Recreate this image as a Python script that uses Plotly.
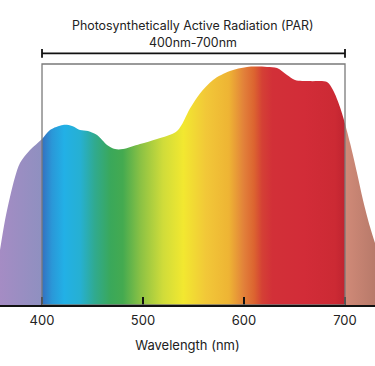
import plotly.graph_objects as go

# Relative spectral intensity (box top = 1.0)
wavelength_nm = [358.4, 363.4, 368.3, 373.3, 378.2, 388.1, 400.0, 407.9, 420.8, 429.7,
                 437.6, 445.5, 454.5, 464.4, 472.3, 480.2, 497.0, 513.9, 533.7,
                 546.5, 556.4, 569.3, 586.1, 603.0, 622.8, 632.7, 642.6, 650.5, 665.3,
                 682.2, 688.1, 695.0, 699.0, 705.0, 711.9, 717.8, 724.8, 729.7]
intensity = [0.228, 0.353, 0.448, 0.531, 0.589, 0.643, 0.689, 0.726, 0.747, 0.743,
             0.726, 0.722, 0.705, 0.664, 0.647, 0.647, 0.668, 0.689, 0.722,
             0.815, 0.878, 0.934, 0.971, 0.988, 0.988, 0.983, 0.954, 0.934, 0.929,
             0.925, 0.892, 0.822, 0.768, 0.672, 0.548, 0.436, 0.324, 0.257]

# Spectrum colours along wavelength
color_nm = [358.4, 399.6, 400.0, 410, 422, 438, 452, 468, 480, 498, 520, 540,
            562, 585, 600, 610, 618, 628, 660, 690, 699.6, 700.0, 729.7]
color_hex = ["#a58cc4", "#8f90c0", "#3570c0", "#2a98d8", "#22b0e6", "#26b0d2", "#30aa90",
             "#3aa85a", "#44aa50", "#8cc244", "#d0dc3a", "#f2e830", "#f2c838", "#eeb434",
             "#e2803a", "#dc6430", "#d44035", "#d23038", "#d22c38", "#cc2a34", "#c02430",
             "#d08a78", "#b87a6a"]

tick_vals = [400, 500, 600, 700]
tick_text = ["400", "500", "600", "700"]
par_range = [400, 700]
box_top = 1.0
bracket_level = 1.044
cap_half = 0.018

x_range = [358.4, 729.7]
y_range = [0, 1.2656]

title_1 = "Photosynthetically Active Radiation (PAR)"
title_2 = "400nm-700nm"
x_title = "Wavelength (nm)"

span = x_range[1] - x_range[0]
colorscale = [[(w - x_range[0]) / span, c] for w, c in zip(color_nm, color_hex)]
colorscale[0][0] = 0.0
colorscale[-1][0] = 1.0

fig = go.Figure()
fig.add_trace(go.Scatter(
    x=wavelength_nm, y=intensity, mode="lines",
    line=dict(width=0, shape="spline", smoothing=0.9),
    fill="tozeroy",
    fillgradient=dict(type="horizontal", colorscale=colorscale,
                      start=x_range[0], stop=x_range[1]),
    hoverinfo="skip", showlegend=False,
))

# PAR box
fig.add_shape(type="rect", x0=par_range[0], x1=par_range[1], y0=0, y1=box_top,
              line=dict(color="#7a7a7a", width=1.3), layer="above")
# bracket
fig.add_shape(type="line", x0=par_range[0], x1=par_range[1], y0=bracket_level, y1=bracket_level,
              line=dict(color="#111111", width=1.8))
for xv in par_range:
    fig.add_shape(type="line", x0=xv, x1=xv, y0=bracket_level - cap_half, y1=bracket_level + cap_half,
                  line=dict(color="#111111", width=1.8))

fig.add_annotation(text=title_1, x=0.515, y=0.915, xref="paper", yref="paper",
                   xanchor="center", yanchor="middle",
                   showarrow=False, font=dict(size=12.4, color="#222222", family="Inter"))
fig.add_annotation(text=title_2, x=0.515, y=0.862, xref="paper", yref="paper",
                   xanchor="center", yanchor="middle",
                   showarrow=False, font=dict(size=12.4, color="#222222", family="Inter"))

fig.update_layout(
    width=375, height=366,
    margin=dict(l=0, r=0, t=0, b=61),
    paper_bgcolor="white", plot_bgcolor="white",
    font=dict(family="Inter", color="#222222", size=13),
    xaxis=dict(range=x_range, tickvals=tick_vals, ticktext=tick_text,
               ticks="inside", ticklen=8, tickwidth=1.5, tickcolor="#111111",
               showline=True, linecolor="#111111", linewidth=1.5,
               showgrid=False, zeroline=False, ticklabelstandoff=3,
               title=dict(text=x_title, standoff=14, font=dict(size=13)),
               tickfont=dict(size=13)),
    yaxis=dict(range=y_range, visible=False, showgrid=False, zeroline=False),
)

fig.write_html("out.html", config={"displayModeBar": False},
               post_script="document.body.style.margin='0';document.body.style.overflow='hidden';")
